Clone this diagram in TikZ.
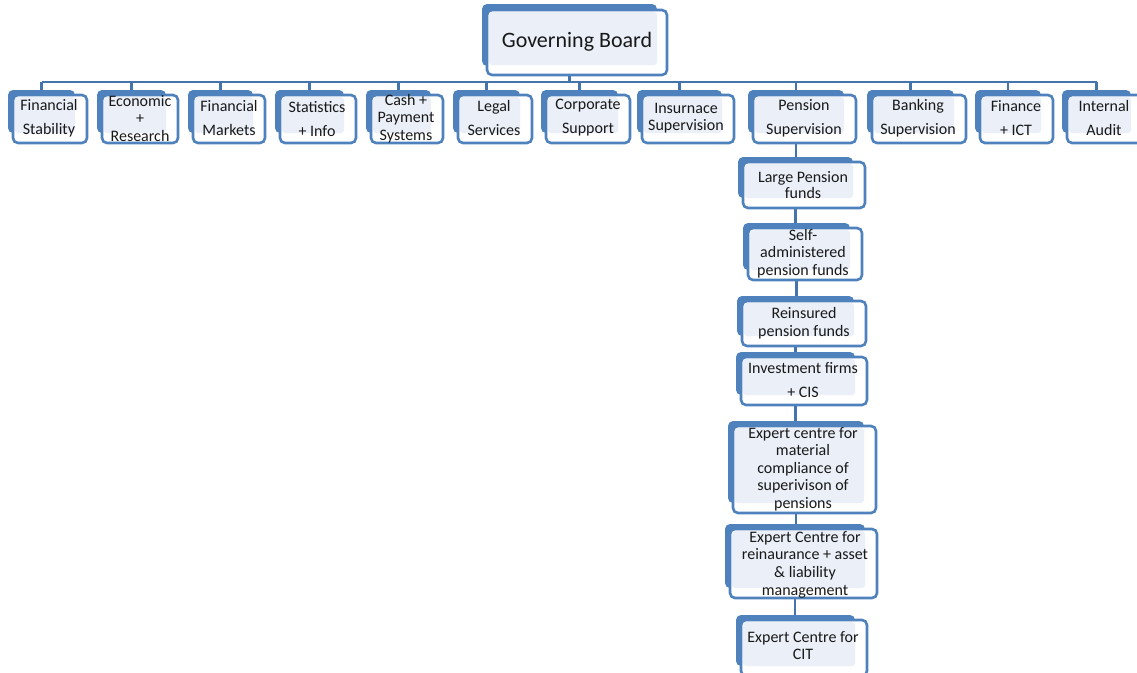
\documentclass[tikz,border=0pt]{standalone}
\usepackage{fontspec}
\setmainfont{Carlito}
\pgfdeclarelayer{conn}
\pgfsetlayers{conn,main}
\definecolor{obl}{HTML}{4F81BD}
\definecolor{olt}{HTML}{EAEFF8}
\definecolor{oln}{HTML}{4573AC}
\tikzset{
  backbox/.style={fill=obl, rounded corners=5pt, inner sep=0pt},
  frontbox/.style={fill=white, draw=obl, line width=2.6pt, rounded corners=5pt, inner sep=0pt},
  lightbox/.style={fill=olt, rounded corners=3pt},
  lbl/.style={align=center, inner sep=0pt, text=black!90},
  connline/.style={draw=oln, line width=2.4pt}
}
\newcommand\obox[9]{%
  \node[backbox, minimum width={(#4-#2-7)*1pt}, minimum height={(#5-#3-5)*1pt}] (#1) at ({(#2+#4-17)/2},{(#3+#5-15)/2}) {};
  \node[frontbox, minimum width={(#4-#2)*1pt}, minimum height={(#5-#3)*1pt}] (#1f) at ({(#2+#4)/2},{(#3+#5)/2}) {};
  \fill[lightbox] (#2+2,#3+2) rectangle (#4-12,#5-10);
  \node[lbl, font=\fontsize{16}{#8}\selectfont] (#1t) at (#6,#7) {#9};
}
\begin{document}
\begin{tikzpicture}[x=1pt,y=-1pt]
\useasboundingbox (0,0) rectangle (1137,672);
\clip (0,0) rectangle (1137,672);
% governing board
\node[backbox, minimum width=175pt, minimum height=62pt] (gb) at (569.5,35) {};
\node[frontbox, minimum width=180pt, minimum height=65pt] (gbf) at (577,42.5) {};
\fill[lightbox] (489,12) rectangle (657,65);
\node[lbl, font=\fontsize{22}{26}\selectfont] (gbt) at (577,42) {Governing Board};
% top row
\obox{fs}{13}{95}{87}{143}{49}{118}{24}{Financial\\Stability}
\obox{er}{102}{95}{178}{143}{140}{118.5}{17.5}{Economic\\+\\Research}
\obox{fm}{193}{95}{265}{143}{229}{118}{24}{Financial\\Markets}
\obox{si}{280}{95}{356}{143}{317}{119}{24}{Statistics\\+ Info}
\obox{cp}{371}{95}{443}{143}{406}{118.5}{17.5}{Cash +\\Payment\\Systems}
\obox{ls}{458}{95}{532}{143}{494}{118}{24}{Legal\\Services}
\obox{cs}{546}{95}{630}{143}{588}{118}{24}{Corporate\\Support}
\obox{ins}{642}{95}{734}{143}{686}{118.5}{17}{Insurnace\\Supervision}
\obox{ps}{753}{95}{856}{143}{804}{118}{24}{Pension\\Supervision}
\obox{bs}{872}{95}{966}{143}{918}{118}{24}{Banking\\Supervision}
\obox{fi}{980}{95}{1053}{143}{1016}{118}{24}{Finance\\+ ICT}
\obox{ia}{1067}{95}{1143}{143}{1104}{118}{24}{Internal\\Audit}
% pension chain
\obox{lp}{743}{162}{865}{208}{803}{185}{16.5}{Large Pension\\funds}
\obox{sa}{748}{228}{862}{280}{803}{253.5}{17.5}{Self-\\administered\\pension funds}
\obox{rp}{742}{301}{866}{346}{804}{323}{18}{Reinsured\\pension funds}
\obox{inv}{741}{357}{867}{405}{803}{380}{24}{Investment firms\\+ CIS}
\obox{em}{733}{426}{876}{513}{803}{469}{17.5}{Expert centre for\\material\\compliance of\\superivison of\\pensions}
\obox{era}{730}{529}{877}{598}{805}{564.5}{17.7}{Expert Centre for\\reinaurance + asset\\\& liability\\management}
\obox{cit}{741}{620}{867}{676}{803}{645.5}{17}{Expert Centre for\\CIT}
% connectors
\begin{pgfonlayer}{conn}
\coordinate (busL) at (41.5,82);
\coordinate (busR) at (1096.5,82);
\draw[connline] (busL) -- (busR);
\draw[connline] (gb.south) -- (gb.south |- busL);
\foreach \n in {fs,er,fm,si,cp,ls,cs,ins,ps,bs,fi,ia}
  \draw[connline] (\n.north |- busL) -- (\n.north);
\draw[connline] (ps.south) -- (ps.south |- lp.north);
\draw[connline] (lp.south) -- (lp.south |- sa.north);
\draw[connline] (sa.south) -- (sa.south |- rp.north);
\draw[connline] (rp.south) -- (rp.south |- inv.north);
\draw[connline] (inv.south) -- (inv.south |- em.north);
\draw[connline] (em.south) -- (em.south |- era.north);
\draw[connline] (era.south) -- (era.south |- cit.north);
\end{pgfonlayer}
\end{tikzpicture}
\end{document}
